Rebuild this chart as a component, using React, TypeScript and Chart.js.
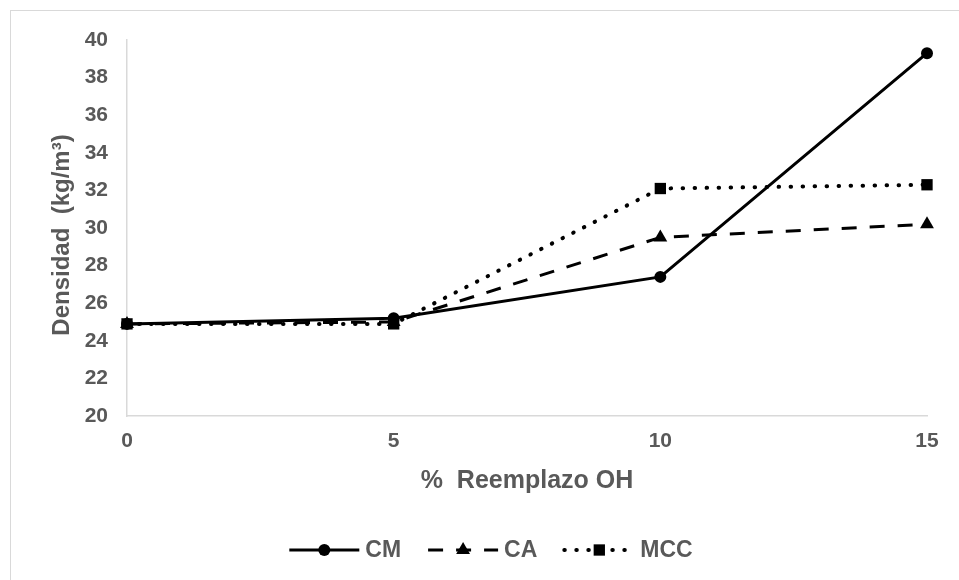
import React, { useEffect, useRef } from "react";
import { Chart, registerables } from "chart.js";

Chart.register(...registerables);

const categories = ["0", "5", "10", "15"];
const seriesNames = ["CM", "CA", "MCC"];
const cmValues = [24.9, 25.2, 27.4, 39.3];
const caValues = [24.9, 25.0, 29.5, 30.2];
const mccValues = [24.9, 24.9, 32.1, 32.3];
const yMin = 20;
const yMax = 40;
const yStep = 2;
const xTitle = "%  Reemplazo OH";
const yTitle = "Densidad  (kg/m³)";

const FONT = "'Liberation Sans', Arial, sans-serif";
const TEXT = "#595959";
const AXIS = "#d9d9d9";

const styles = [
  { dash: [] as number[], point: "circle", radius: 6, cap: "butt", width: 3 },
  { dash: [15, 13], point: "triangle", radius: 8, cap: "butt", width: 3 },
  { dash: [0.5, 11.5], point: "rect", radius: 8, cap: "round", width: 4 },
];

function drawMarker(ctx: CanvasRenderingContext2D, kind: string, x: number, y: number, r: number) {
  ctx.save();
  ctx.fillStyle = "#000";
  ctx.beginPath();
  if (kind === "circle") {
    ctx.arc(x, y, r, 0, Math.PI * 2);
  } else if (kind === "triangle") {
    for (let i = 0; i < 3; i++) {
      const a = -Math.PI / 2 + (i * 2 * Math.PI) / 3;
      const px = x + r * Math.cos(a);
      const py = y + r * Math.sin(a);
      if (i === 0) ctx.moveTo(px, py);
      else ctx.lineTo(px, py);
    }
    ctx.closePath();
  } else {
    const s = r * Math.SQRT1_2;
    ctx.rect(x - s, y - s, 2 * s, 2 * s);
  }
  ctx.fill();
  ctx.restore();
}

const legendPlugin = {
  id: "customLegend",
  afterDraw(chart: any) {
    const ctx: CanvasRenderingContext2D = chart.ctx;
    const y = 550;
    const lineLen = 70;
    const textGap = 6;
    const itemGap = 27;
    ctx.save();
    ctx.font = `bold 23px ${FONT}`;
    const widths = seriesNames.map((n) => ctx.measureText(n).width);
    const total =
      widths.reduce((a, w) => a + lineLen + textGap + w, 0) + itemGap * (seriesNames.length - 1);
    let x = 491 - total / 2;
    seriesNames.forEach((name, i) => {
      const st = styles[i];
      ctx.save();
      ctx.strokeStyle = "#000";
      ctx.lineWidth = st.width;
      ctx.lineCap = st.cap as CanvasLineCap;
      ctx.setLineDash(st.dash);
      ctx.beginPath();
      ctx.moveTo(x, y);
      ctx.lineTo(x + lineLen, y);
      ctx.stroke();
      ctx.restore();
      drawMarker(ctx, st.point, x + lineLen / 2, y, st.radius);
      ctx.fillStyle = TEXT;
      ctx.textBaseline = "middle";
      ctx.textAlign = "left";
      ctx.fillText(name, x + lineLen + textGap, y + 1);
      x += lineLen + textGap + widths[i] + itemGap;
    });
    ctx.restore();
  },
};

const yTitlePlugin = {
  id: "yTitle",
  afterDraw(chart: any) {
    const ctx: CanvasRenderingContext2D = chart.ctx;
    const area = chart.chartArea;
    ctx.save();
    ctx.translate(62, (area.top + area.bottom) / 2 + 7);
    ctx.rotate(-Math.PI / 2);
    ctx.font = `bold 24px ${FONT}`;
    ctx.fillStyle = TEXT;
    ctx.textAlign = "center";
    ctx.textBaseline = "middle";
    ctx.fillText(yTitle, 0, 0);
    ctx.restore();
  },
};

export default function App() {
  const ref = useRef<HTMLCanvasElement | null>(null);

  useEffect(() => {
    if (!ref.current) return;
    const values = [cmValues, caValues, mccValues];
    const chart = new Chart(ref.current, {
      type: "line",
      data: {
        labels: categories,
        datasets: seriesNames.map((name, i) => ({
          label: name,
          data: values[i],
          borderColor: "#000",
          backgroundColor: "#000",
          borderWidth: styles[i].width,
          borderDash: styles[i].dash,
          borderCapStyle: styles[i].cap as CanvasLineCap,
          pointStyle: styles[i].point as any,
          pointRadius: styles[i].radius,
          pointBackgroundColor: "#000",
          pointBorderColor: "#000",
          pointBorderWidth: 0,
          tension: 0,
          fill: false,
        })),
      },
      options: {
        animation: false,
        responsive: true,
        maintainAspectRatio: false,
        layout: { padding: { top: 40, right: 32, left: 0, bottom: 0 } },
        plugins: {
          legend: { display: false },
          tooltip: { enabled: false },
        },
        scales: {
          x: {
            type: "category",
            offset: false,
            grid: { display: false, drawTicks: false },
            border: { display: true, color: AXIS, width: 1.5 },
            ticks: {
              color: TEXT,
              font: { family: FONT, size: 21, weight: "bold" },
              padding: 13,
              maxRotation: 0,
            },
            title: {
              display: true,
              text: xTitle,
              color: TEXT,
              font: { family: FONT, size: 25, weight: "bold" },
              padding: { top: 0, bottom: 84 },
            },
            afterFit: (s: any) => {
              s.height = 164;
            },
          },
          y: {
            min: yMin,
            max: yMax,
            grid: { display: false, drawTicks: false },
            border: { display: true, color: AXIS, width: 1.5 },
            ticks: {
              stepSize: yStep,
              color: TEXT,
              font: { family: FONT, size: 21, weight: "bold" },
              padding: 19,
            },
            title: { display: false },
            afterFit: (s: any) => {
              s.width = 127;
            },
          },
        },
      },
      plugins: [legendPlugin, yTitlePlugin],
    });
    return () => chart.destroy();
  }, []);

  return (
    <div style={{ position: "fixed", left: 0, top: 0, width: 959, height: 580, background: "#fff" }}>
      <div
        style={{
          position: "absolute",
          left: 10,
          top: 10,
          width: 949,
          height: 570,
          borderLeft: "1px solid #d9d9d9",
          borderTop: "1px solid #d9d9d9",
          boxSizing: "border-box",
        }}
      />
      <div style={{ position: "absolute", left: 0, top: 0, width: 959, height: 580 }}>
        <canvas ref={ref} />
      </div>
    </div>
  );
}
